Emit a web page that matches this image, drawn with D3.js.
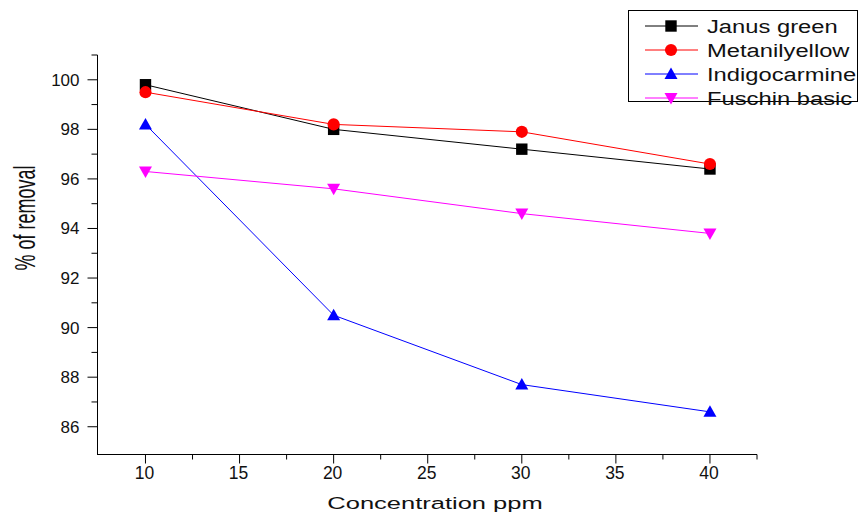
<!DOCTYPE html>
<html>
<head>
<meta charset="utf-8">
<script src="https://cdn.jsdelivr.net/npm/d3@7"></script>
<style>
  body { margin: 0; background: #fff; }
  text { font-family: Arial, "Liberation Sans", sans-serif; fill: #111; }
</style>
</head>
<body>
<script>
// Data
var concentrations = [10, 20, 30, 40];
var janusGreen = [99.8, 98.0, 97.2, 96.4];
var metanilYellow = [99.5, 98.2, 97.9, 96.6];
var indigocarmine = [98.2, 90.5, 87.7, 86.6];
var fuschinBasic = [96.3, 95.6, 94.6, 93.8];
var xTicks = [10, 15, 20, 25, 30, 35, 40];
var yTicks = [86, 88, 90, 92, 94, 96, 98, 100];

var series = [
  {name: "Janus green", values: janusGreen, color: "#000000", symbol: "square"},
  {name: "Metanilyellow", values: metanilYellow, color: "#ff0000", symbol: "circle"},
  {name: "Indigocarmine", values: indigocarmine, color: "#0000ff", symbol: "up"},
  {name: "Fuschin basic", values: fuschinBasic, color: "#ff00ff", symbol: "down"}
];

var W = 860, H = 513;
var svg = d3.select("body").append("svg")
    .attr("width", W)
    .attr("height", H);

var x = d3.scaleLinear().domain([7.45, 42.5]).range([97.5, 757]);
var y = d3.scaleLinear().domain([84.9, 101]).range([454, 55]);

// x axis
var xAxis = svg.append("g").attr("transform", "translate(0,454.5)");
xAxis.append("line").attr("x1", 97).attr("x2", 757).attr("stroke", "#000");
xAxis.selectAll(".maj").data(xTicks).enter().append("line")
    .attr("x1", d => x(d)).attr("x2", d => x(d))
    .attr("y1", 0).attr("y2", 9).attr("stroke", "#000");
xAxis.selectAll(".min").data(xTicks.map(d => d + 2.5)).enter().append("line")
    .attr("x1", d => x(d)).attr("x2", d => x(d))
    .attr("y1", 0).attr("y2", 5).attr("stroke", "#000");
xAxis.selectAll("text").data(xTicks).enter().append("text")
    .attr("x", d => x(d) - 1).attr("y", 24)
    .attr("text-anchor", "middle")
    .attr("font-size", 17.5)
    .text(d => d);

// y axis
var yAxis = svg.append("g").attr("transform", "translate(97.5,0)");
yAxis.append("line").attr("y1", 55).attr("y2", 455).attr("stroke", "#000");
yAxis.selectAll(".maj").data(yTicks).enter().append("line")
    .attr("y1", d => y(d)).attr("y2", d => y(d))
    .attr("x1", 0).attr("x2", -10).attr("stroke", "#000");
yAxis.selectAll(".min").data(yTicks.map(d => d + 1)).enter().append("line")
    .attr("y1", d => y(d)).attr("y2", d => y(d))
    .attr("x1", 0).attr("x2", -6).attr("stroke", "#000");
yAxis.selectAll("text").data(yTicks).enter().append("text")
    .attr("x", -18).attr("y", d => y(d) + 6)
    .attr("text-anchor", "end")
    .attr("font-size", 17)
    .text(d => d);

// axis titles (the original looks stretched sideways)
svg.append("text")
    .attr("transform", "translate(435,509) scale(1.5,1)")
    .attr("text-anchor", "middle")
    .attr("font-size", 17)
    .text("Concentration ppm");
svg.append("text")
    .attr("transform", "translate(35,218) rotate(-90) scale(1,1.6)")
    .attr("text-anchor", "middle")
    .attr("font-size", 18)
    .text("% of removal");

function marker(g, s) {
  if (s.symbol === "up") {
    g.append("path").attr("d", "M0,-6.5L6.5,5L-6.5,5Z");
  } else if (s.symbol === "down") {
    g.append("path").attr("d", "M0,6.5L6.5,-5L-6.5,-5Z");
  } else if (s.symbol === "square") {
    g.append("path").attr("d", d3.symbol().type(d3.symbolSquare).size(130)());
  } else {
    g.append("path").attr("d", d3.symbol().type(d3.symbolCircle).size(115)());
  }
}

var line = d3.line()
    .x((d, i) => x(concentrations[i]))
    .y(d => y(d));

series.forEach(function(s) {
  svg.append("path")
      .attr("d", line(s.values))
      .attr("fill", "none")
      .attr("stroke", s.color)
      .attr("stroke-width", 1);
  s.values.forEach(function(v, i) {
    var g = svg.append("g")
        .attr("transform", "translate(" + x(concentrations[i]) + "," + y(v) + ")")
        .attr("fill", s.color);
    marker(g, s);
  });
});

// legend
var legend = svg.append("g");
legend.append("rect")
    .attr("x", 628.5).attr("y", 10.5)
    .attr("width", 229).attr("height", 91)
    .attr("fill", "#fff").attr("stroke", "#000");
series.forEach(function(s, i) {
  var ly = 26 + i * 24;
  legend.append("line")
      .attr("x1", 645).attr("x2", 698)
      .attr("y1", ly).attr("y2", ly)
      .attr("stroke", s.color);
  var g = legend.append("g")
      .attr("transform", "translate(671," + ly + ")")
      .attr("fill", s.color);
  marker(g, s);
  legend.append("text")
      .attr("transform", "translate(707," + (ly + 7) + ") scale(1.32,1)")
      .attr("font-size", 18)
      .text(s.name);
});
</script>
</body>
</html>
